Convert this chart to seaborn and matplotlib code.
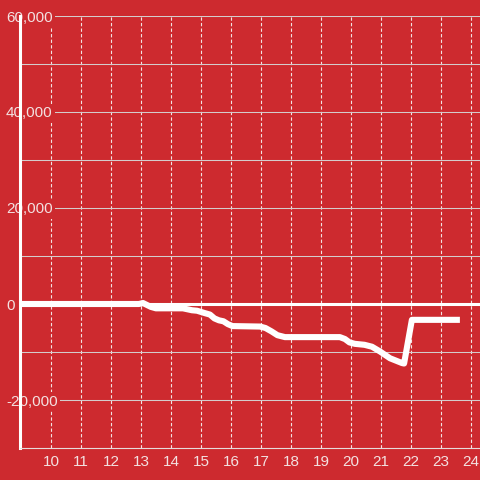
import matplotlib
matplotlib.use("Agg")
import matplotlib.pyplot as plt
import matplotlib.ticker as mticker
import seaborn as sns
import pandas as pd

# ---- data ----
x_vals = [9.0, 12.93, 13.07, 13.2, 13.33, 13.5, 14.4, 14.55, 14.7, 14.87, 15.13, 15.3,
          15.45, 15.6, 15.75, 15.9, 16.05, 16.97, 17.15, 17.35, 17.55, 17.8, 19.63,
          19.8, 19.95, 20.13, 20.45, 20.7, 20.97, 21.3, 21.7, 21.77, 22.03, 23.63]
y_vals = [0, 0, 200, -200, -600, -900, -900, -1100, -1300, -1400, -1900, -2200,
          -3000, -3400, -3600, -4200, -4600, -4700, -5000, -5700, -6500, -6900, -6900,
          -7300, -8000, -8300, -8500, -8900, -9900, -11300, -12300, -12400, -3300, -3300]
x_ticks = list(range(10, 25))
y_ticks = [-20000, 0, 20000, 40000, 60000]
y_grid = list(range(-20000, 60001, 10000))

BG = "#cd2a2f"
TXT = "#f3e1e1"

sns.set_theme(style="white")
plt.rcParams["font.family"] = ["Liberation Sans", "DejaVu Sans"]

fig = plt.figure(figsize=(4.8, 4.8), dpi=100, facecolor=BG)
ax = fig.add_axes([20 / 480, 32 / 480, 460 / 480, 432 / 480])
ax.set_facecolor(BG)

df = pd.DataFrame({"x": x_vals, "y": y_vals})

ax.set_xlim(8.97, 24.3)
ax.set_ylim(-30000, 60000)

ax.set_xticks(x_ticks)
ax.set_yticks(y_ticks)
ax.yaxis.set_minor_locator(mticker.FixedLocator([v for v in y_grid if v != 0]))
ax.grid(False)
ax.grid(True, axis="x", which="major", color="#f2e2e2", lw=0.8,
        linestyle=(0, (3, 2)), zorder=1)
ax.grid(True, axis="y", which="both", color="#d4cccc", lw=0.75,
        linestyle="-", zorder=1)
ax.set_axisbelow(True)

ax.axhline(0, color="white", lw=2.2, zorder=2)

sns.lineplot(data=df, x="x", y="y", ax=ax, color="white", lw=4.4,
             estimator=None, zorder=3, solid_capstyle="butt",
             solid_joinstyle="round")

ax.set_xlabel("")
ax.set_ylabel("")

ax.yaxis.set_major_formatter(mticker.FuncFormatter(lambda v, p: f"{int(v):,}"))

for s in ["top", "right"]:
    ax.spines[s].set_visible(False)
ax.spines["left"].set_color("white")
ax.spines["left"].set_linewidth(2.2)
ax.spines["bottom"].set_color("#e6dcdc")
ax.spines["bottom"].set_linewidth(0.8)

ax.tick_params(axis="x", which="both", length=0, pad=5, colors=TXT, labelsize=11)
ax.tick_params(axis="y", which="both", length=0, pad=10, colors=TXT, labelsize=11)
for lab in ax.get_yticklabels():
    lab.set_horizontalalignment("left")
    lab.set_bbox(dict(facecolor=BG, edgecolor="none", pad=1.5))

fig.savefig("out.png", dpi=100, facecolor=BG)
